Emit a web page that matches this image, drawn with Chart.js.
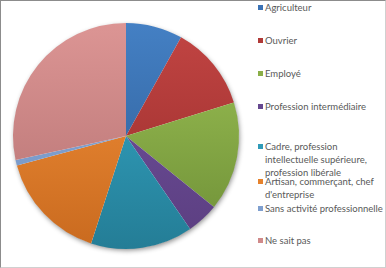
<!DOCTYPE html>
<html>
<head>
<meta charset="utf-8">
<script src="https://cdn.jsdelivr.net/npm/chart.js@4"></script>
<style>
  body{margin:0;background:#fff;}
  #frame{position:relative;width:386px;height:268px;box-sizing:border-box;border:1px solid #8c8c8c;border-right-color:#d0d0d0;border-bottom-color:#d0d0d0;overflow:hidden;}
  #pieBox{position:absolute;left:-1px;top:-1px;width:250px;height:268px;}
  #legend{position:absolute;left:0;top:0;font-family:Lato,"Open Sans",sans-serif;font-size:9.5px;color:#595959;line-height:13px;}
  .item{position:absolute;left:264px;width:125px;white-space:normal;}
  .item i{position:absolute;left:-7px;top:3.5px;width:5px;height:5px;}
</style>
</head>
<body>
<div id="frame">
  <div id="pieBox"><canvas id="pie"></canvas></div>
  <div id="legend"></div>
</div>
<script>
// === Data ===
const categories = ["Agriculteur","Ouvrier","Employé","Profession intermédiaire",
  "Cadre, profession intellectuelle supérieure, profession libérale",
  "Artisan, commerçant, chef d'entreprise","Sans activité professionnelle","Ne sait pas"];
const shares = [8.1, 12.1, 15.6, 4.6, 14.6, 15.8, 0.8, 28.4];

// gradient colours (top / bottom) and legend swatch colour
const topColors    = ["#4480c4","#c24543","#9dc255","#7253a0","#36abca","#f5923a","#8fb0dc","#dc9594"];
const bottomColors = ["#2c5a92","#962b2a","#6d8e36","#5b3e80","#247d96","#c96a1f","#6f8fc0","#b47171"];
const swatches     = ["#3b72b5","#b03a38","#8aae47","#65488f","#2f9bb8","#e6822c","#7f9fcf","#d08a8a"];

// legend rows (first-line top), layout only
const legendTops = [0, 33, 66, 99, 139, 174, 201, 233];

// === Legend ===
const lg=document.getElementById("legend");
categories.forEach((c,i)=>{
  const d=document.createElement("div");
  d.className="item"; d.style.top=legendTops[i]+"px";
  if(i===4) d.style.width="105px";
  if(i===5) d.style.width="118px";
  d.innerHTML=`<i style="background:${swatches[i]}"></i>${c}`;
  lg.appendChild(d);
});

// white disc with soft shadow under the slices
const shadowPlugin={
  id:"shadow",
  beforeDatasetsDraw(chart){
    const a=chart.getDatasetMeta(0).data[0]; if(!a) return;
    const ctx=chart.ctx; ctx.save();
    ctx.shadowColor="rgba(0,0,0,0.45)"; ctx.shadowBlur=5; ctx.shadowOffsetX=1; ctx.shadowOffsetY=2;
    ctx.beginPath(); ctx.arc(a.x,a.y,a.outerRadius-0.5,0,Math.PI*2); ctx.fillStyle="#fff"; ctx.fill();
    ctx.restore();
  }
};

new Chart(document.getElementById("pie"),{
  type:"pie",
  data:{labels:categories,datasets:[{data:shares,borderWidth:0,
    backgroundColor(ctx){
      const area=ctx.chart.chartArea; const i=ctx.dataIndex;
      if(!area) return swatches[i];
      const g=ctx.chart.ctx.createLinearGradient(0,area.top,0,area.bottom);
      g.addColorStop(0,topColors[i]); g.addColorStop(1,bottomColors[i]);
      return g;
    }}]},
  options:{responsive:true,maintainAspectRatio:false,animation:false,
    layout:{padding:{left:13,right:11,top:23,bottom:19}},
    plugins:{legend:{display:false},tooltip:{enabled:false}}},
  plugins:[shadowPlugin]
});
</script>
</body>
</html>
